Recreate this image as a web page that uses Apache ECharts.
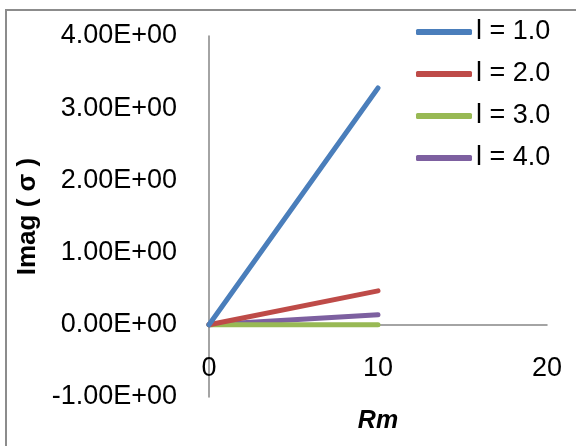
<!DOCTYPE html>
<html>
<head>
<meta charset="utf-8">
<script src="https://cdn.jsdelivr.net/npm/echarts@6/dist/echarts.min.js"></script>
<style>
  html, body { margin: 0; padding: 0; background: #fff; }
  #chart { width: 576px; height: 446px; }
</style>
</head>
<body>
<div id="chart"></div>
<script>
// Magnetic Reynolds number samples
const rm = [0, 10];
// Imaginary part of growth rate for each l
const l1 = [0, 3.28];
const l2 = [0, 0.47];
const l3 = [0, 0.0];
const l4 = [0, 0.14];
const seriesNames = ['l = 1.0', 'l = 2.0', 'l = 3.0', 'l = 4.0'];
const seriesColors = ['#4a7ebb', '#be4b48', '#98b954', '#7d60a0'];
const seriesValues = [l1, l2, l3, l4];

const FONT = '"Liberation Sans", Arial, sans-serif';

const chart = echarts.init(document.getElementById('chart'));
chart.setOption({
  animation: false,
  backgroundColor: '#ffffff',
  graphic: [{
    type: 'rect',
    shape: { x: 6, y: 10, width: 620, height: 500 },
    style: { fill: 'none', stroke: '#8c8c8c', lineWidth: 2 },
    silent: true,
    z: 0
  }],
  grid: { left: 209, right: 29, top: 36, bottom: 49, containLabel: false, outerBoundsMode: 'none' },
  legend: {
    orient: 'vertical',
    left: 411,
    top: 12,
    itemWidth: 56,
    itemHeight: 6,
    itemGap: 12,
    icon: 'roundRect',
    textStyle: { fontFamily: FONT, fontSize: 27, color: '#000', lineHeight: 30, padding: [0, 0, 0, -1] },
    data: seriesNames
  },
  xAxis: {
    type: 'value',
    min: 0, max: 20, interval: 10,
    name: 'Rm',
    nameLocation: 'middle',
    nameGap: 12,
    nameTextStyle: { fontFamily: FONT, fontSize: 25, fontWeight: 'bold', fontStyle: 'italic', color: '#000' },
    axisLine: { onZero: true, lineStyle: { color: '#868686', width: 1.5 } },
    axisTick: { show: false },
    splitLine: { show: false },
    axisLabel: { fontFamily: FONT, fontSize: 27, color: '#000', margin: -42 }
  },
  yAxis: {
    type: 'value',
    min: -1, max: 4, interval: 1,
    name: 'Imag ( σ )',
    nameLocation: 'middle',
    nameGap: 163,
    nameRotate: 90,
    nameTextStyle: { fontFamily: FONT, fontSize: 26, fontWeight: 'bold', color: '#000' },
    axisLine: { show: true, onZero: false, lineStyle: { color: '#868686', width: 1.5 } },
    axisTick: { show: false },
    splitLine: { show: false },
    axisLabel: {
      fontFamily: FONT, fontSize: 27, color: '#000', margin: 32,
      formatter: v => v.toFixed(2) + 'E+00'
    }
  },
  series: seriesNames.map((name, i) => ({
    name: name,
    type: 'line',
    data: rm.map((x, j) => [x, seriesValues[i][j]]),
    showSymbol: false,
    symbol: 'none',
    color: seriesColors[i],
    lineStyle: { width: 5, color: seriesColors[i], cap: 'round' },
    z: 10 - i
  }))
});
</script>
</body>
</html>
